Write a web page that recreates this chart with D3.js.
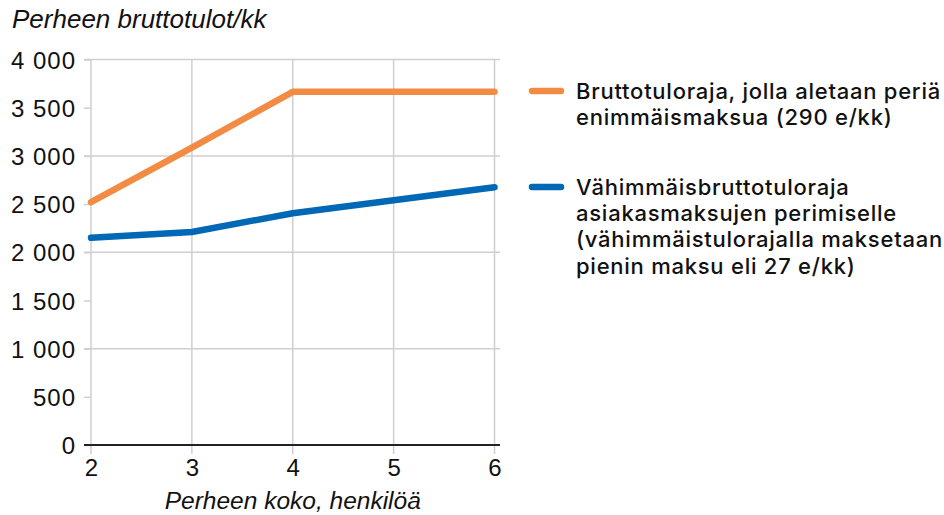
<!DOCTYPE html>
<html>
<head>
<meta charset="utf-8">
<script src="https://cdn.jsdelivr.net/npm/d3@7"></script>
<style>
  body { margin: 0; background: #fff; }
</style>
</head>
<body>
<svg id="chart" width="944" height="515"></svg>
<script>
// data
var familySize = [2, 3, 4, 5, 6]
var maxFeeLimit = [2520, 3085, 3665, 3665, 3665]
var minIncomeLimit = [2150, 2210, 2405, 2540, 2675]
var yTicks = [0, 500, 1000, 1500, 2000, 2500, 3000, 3500, 4000]
var yGrid = [1000, 2000, 3000, 4000]

var legendItems = [
  {color: "#f28c45", lines: ["Bruttotuloraja, jolla aletaan periä", "enimmäismaksua (290 e/kk)"]},
  {color: "#0068b4", lines: ["Vähimmäisbruttotuloraja", "asiakasmaksujen perimiselle",
                             "(vähimmäistulorajalla maksetaan", "pienin maksu eli 27 e/kk)"]}
]

var svg = d3.select("#chart")
var xleft = 91, xright = 494.5
var ytop = 59.5, ybottom = 445
var tickFont = "Liberation Sans, Arial, sans-serif"

var x = d3.scaleLinear().domain([2, 6]).range([xleft, xright])
var y = d3.scaleLinear().domain([0, 4000]).range([ybottom, ytop])

var fmt = function(d) { return d3.format(",")(d).replace(",", " ") }

// vertical grid
svg.append("g").selectAll("line")
  .data(familySize).enter().append("line")
  .attr("x1", function(d) { return x(d) }).attr("x2", function(d) { return x(d) })
  .attr("y1", ytop).attr("y2", ybottom + 9)
  .attr("stroke", "#cfcfcf").attr("stroke-width", 1.5)

// horizontal grid
svg.append("g").selectAll("line")
  .data(yGrid).enter().append("line")
  .attr("x1", xleft - 7).attr("x2", 500)
  .attr("y1", function(d) { return y(d) }).attr("y2", function(d) { return y(d) })
  .attr("stroke", "#cfcfcf").attr("stroke-width", 1.5)

// y axis ticks + labels
var yAxis = d3.axisLeft(y).tickValues(yTicks).tickSize(7).tickPadding(8).tickFormat(fmt)
var ya = svg.append("g").attr("transform", "translate(" + xleft + ",0)").call(yAxis)
ya.select(".domain").remove()
ya.selectAll(".tick line").attr("stroke", "#cfcfcf").attr("stroke-width", 1.5)
ya.selectAll(".tick text")
  .style("font-family", tickFont).style("font-size", "24px").style("letter-spacing", "1px")
  .attr("fill", "#111").attr("dy", "0.36em")

// x axis labels
var xAxis = d3.axisBottom(x).tickValues(familySize).tickSize(0).tickPadding(14).tickFormat(d3.format("d"))
var xa = svg.append("g").attr("transform", "translate(0," + ybottom + ")").call(xAxis)
xa.select(".domain").remove()
xa.selectAll(".tick text")
  .style("font-family", tickFont).style("font-size", "24px")
  .attr("fill", "#111")

// zero line
svg.append("line")
  .attr("x1", xleft - 7).attr("x2", 500)
  .attr("y1", y(0)).attr("y2", y(0))
  .attr("stroke", "#222").attr("stroke-width", 2)

var line = d3.line()
  .x(function(d, i) { return x(familySize[i]) })
  .y(function(d) { return y(d) })

svg.append("path").datum(minIncomeLimit)
  .attr("d", line).attr("fill", "none")
  .attr("stroke", legendItems[1].color).attr("stroke-width", 6.5)
  .attr("stroke-linecap", "round").attr("stroke-linejoin", "round")

svg.append("path").datum(maxFeeLimit)
  .attr("d", line).attr("fill", "none")
  .attr("stroke", legendItems[0].color).attr("stroke-width", 6.5)
  .attr("stroke-linecap", "round").attr("stroke-linejoin", "round")

// titles
svg.append("text")
  .attr("x", 12).attr("y", 28)
  .style("font-family", tickFont).style("font-size", "26px").style("font-style", "italic")
  .attr("fill", "#111")
  .text("Perheen bruttotulot/kk")

svg.append("text")
  .attr("x", x(4)).attr("y", 509)
  .attr("text-anchor", "middle")
  .style("font-family", tickFont).style("font-size", "24.5px").style("font-style", "italic")
  .attr("fill", "#111")
  .text("Perheen koko, henkilöä")

// legend
var legendY = [91, 187]
var lineStep = 26.3
legendItems.map(function(item, i) {
  var g = svg.append("g")
  g.append("line")
    .attr("x1", 532).attr("x2", 561)
    .attr("y1", legendY[i]).attr("y2", legendY[i])
    .attr("stroke", item.color).attr("stroke-width", 6.5)
    .attr("stroke-linecap", "round")
  g.selectAll("text").data(item.lines).enter().append("text")
    .attr("x", 576)
    .attr("y", function(d, j) { return legendY[i] + j * lineStep })
    .attr("dy", "0.35em")
    .attr("fill", "#111")
    .style("font-family", "Inter, sans-serif")
    .style("font-weight", 500)
    .style("font-size", "22px")
    .style("letter-spacing", "0.75px")
    .text(function(d) { return d })
})
</script>
</body>
</html>
